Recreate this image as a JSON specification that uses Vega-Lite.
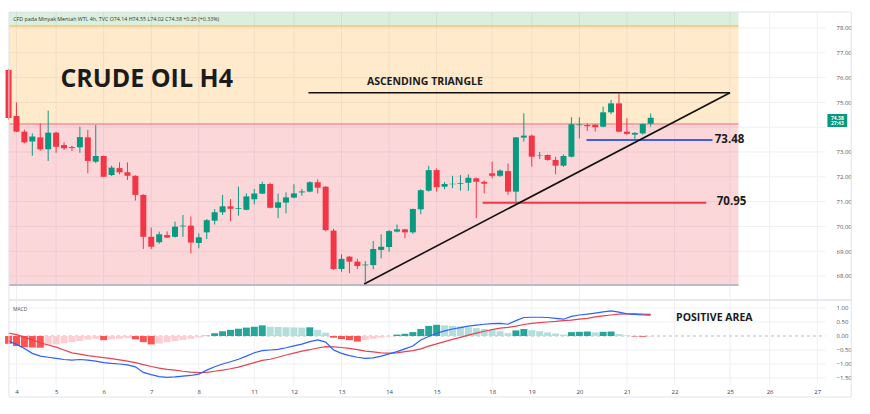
{
  "$schema": "https://vega.github.io/schema/vega-lite/v6.json",
  "width": 870,
  "height": 414,
  "autosize": {"type": "fit", "contains": "padding"},
  "padding": 0,
  "background": "white",
  "config": {
    "font": "Open Sans",
    "view": {"stroke": null},
    "axis": {"labelFont": "Open Sans", "labelColor": "#555555", "labelFontSize": 6, "grid": false, "ticks": false, "domain": false, "title": null, "minExtent": 0, "maxExtent": 0}
  },
  "datasets": {
    "candles": [
      {"i": -1, "o": 76.31, "h": 76.35, "l": 74.3, "c": 74.37, "m": -0.18, "s": 0.1, "hist": -0.28},
      {"i": 0, "o": 74.45, "h": 75.0, "l": 73.8, "c": 73.82, "m": -0.3, "s": 0.05, "hist": -0.36},
      {"i": 1, "o": 73.82, "h": 73.9, "l": 73.35, "c": 73.39, "m": -0.45, "s": -0.04, "hist": -0.4},
      {"i": 2, "o": 73.42, "h": 73.75, "l": 72.85, "c": 73.62, "m": -0.62, "s": -0.14, "hist": -0.41},
      {"i": 3, "o": 73.59, "h": 74.16, "l": 73.05, "c": 73.11, "m": -0.72, "s": -0.24, "hist": -0.42},
      {"i": 4, "o": 73.11, "h": 74.67, "l": 72.64, "c": 73.78, "m": -0.76, "s": -0.32, "hist": -0.33},
      {"i": 5, "o": 73.78, "h": 73.82, "l": 72.97, "c": 73.21, "m": -0.8, "s": -0.4, "hist": -0.3},
      {"i": 6, "o": 73.28, "h": 73.39, "l": 73.08, "c": 73.15, "m": -0.84, "s": -0.5, "hist": -0.26},
      {"i": 7, "o": 73.2, "h": 73.25, "l": 73.04, "c": 73.16, "m": -0.86, "s": -0.6, "hist": -0.22},
      {"i": 8, "o": 73.19, "h": 74.02, "l": 72.97, "c": 73.6, "m": -0.84, "s": -0.65, "hist": -0.18},
      {"i": 9, "o": 73.59, "h": 73.89, "l": 72.14, "c": 72.64, "m": -0.86, "s": -0.7, "hist": -0.13},
      {"i": 10, "o": 72.61, "h": 74.09, "l": 72.55, "c": 72.84, "m": -0.9, "s": -0.74, "hist": -0.1},
      {"i": 11, "o": 72.84, "h": 72.86, "l": 71.98, "c": 72.0, "m": -0.95, "s": -0.77, "hist": -0.15},
      {"i": 12, "o": 72.07, "h": 72.45, "l": 72.03, "c": 72.37, "m": -0.98, "s": -0.81, "hist": -0.12},
      {"i": 13, "o": 72.35, "h": 72.58, "l": 72.1, "c": 72.18, "m": -1.0, "s": -0.85, "hist": -0.1},
      {"i": 14, "o": 72.18, "h": 72.58, "l": 71.87, "c": 72.04, "m": -1.03, "s": -0.9, "hist": -0.08},
      {"i": 15, "o": 72.04, "h": 72.06, "l": 71.04, "c": 71.27, "m": -1.1, "s": -0.95, "hist": -0.12},
      {"i": 16, "o": 71.27, "h": 71.3, "l": 69.09, "c": 69.58, "m": -1.3, "s": -1.02, "hist": -0.22},
      {"i": 17, "o": 69.58, "h": 69.95, "l": 69.09, "c": 69.18, "m": -1.38, "s": -1.09, "hist": -0.3},
      {"i": 18, "o": 69.36, "h": 69.79, "l": 69.3, "c": 69.68, "m": -1.45, "s": -1.15, "hist": -0.27},
      {"i": 19, "o": 69.65, "h": 69.8, "l": 69.53, "c": 69.55, "m": -1.48, "s": -1.19, "hist": -0.22},
      {"i": 20, "o": 69.58, "h": 70.19, "l": 69.55, "c": 69.99, "m": -1.46, "s": -1.22, "hist": -0.18},
      {"i": 21, "o": 70.0, "h": 70.46, "l": 69.58, "c": 70.03, "m": -1.43, "s": -1.26, "hist": -0.14},
      {"i": 22, "o": 70.03, "h": 70.4, "l": 68.91, "c": 69.35, "m": -1.41, "s": -1.29, "hist": -0.1},
      {"i": 23, "o": 69.33, "h": 69.72, "l": 69.12, "c": 69.56, "m": -1.36, "s": -1.31, "hist": -0.05},
      {"i": 24, "o": 69.76, "h": 70.3, "l": 69.49, "c": 70.25, "m": -1.22, "s": -1.3, "hist": 0.01},
      {"i": 25, "o": 70.23, "h": 70.7, "l": 70.08, "c": 70.57, "m": -1.1, "s": -1.26, "hist": 0.1},
      {"i": 26, "o": 70.57, "h": 71.27, "l": 70.46, "c": 70.81, "m": -1.0, "s": -1.22, "hist": 0.17},
      {"i": 27, "o": 70.81, "h": 71.1, "l": 70.22, "c": 70.71, "m": -0.92, "s": -1.17, "hist": 0.22},
      {"i": 28, "o": 70.71, "h": 71.6, "l": 70.43, "c": 70.74, "m": -0.83, "s": -1.11, "hist": 0.26},
      {"i": 29, "o": 70.67, "h": 71.33, "l": 70.65, "c": 71.21, "m": -0.72, "s": -1.03, "hist": 0.3},
      {"i": 30, "o": 71.09, "h": 71.51, "l": 70.89, "c": 71.33, "m": -0.6, "s": -0.95, "hist": 0.33},
      {"i": 31, "o": 71.32, "h": 71.8, "l": 71.3, "c": 71.71, "m": -0.52, "s": -0.87, "hist": 0.38},
      {"i": 32, "o": 71.71, "h": 71.76, "l": 70.73, "c": 70.75, "m": -0.5, "s": -0.83, "hist": 0.33},
      {"i": 33, "o": 70.75, "h": 71.33, "l": 70.33, "c": 70.97, "m": -0.48, "s": -0.76, "hist": 0.32},
      {"i": 34, "o": 70.96, "h": 71.37, "l": 70.53, "c": 71.17, "m": -0.42, "s": -0.68, "hist": 0.31},
      {"i": 35, "o": 71.16, "h": 71.7, "l": 71.13, "c": 71.33, "m": -0.35, "s": -0.61, "hist": 0.305},
      {"i": 36, "o": 71.37, "h": 71.51, "l": 71.24, "c": 71.41, "m": -0.29, "s": -0.54, "hist": 0.3},
      {"i": 37, "o": 71.4, "h": 71.82, "l": 71.38, "c": 71.78, "m": -0.2, "s": -0.49, "hist": 0.31},
      {"i": 38, "o": 71.78, "h": 71.9, "l": 71.33, "c": 71.56, "m": -0.14, "s": -0.43, "hist": 0.22},
      {"i": 39, "o": 71.6, "h": 71.62, "l": 69.8, "c": 69.85, "m": -0.22, "s": -0.38, "hist": 0.12},
      {"i": 40, "o": 69.83, "h": 69.9, "l": 68.25, "c": 68.28, "m": -0.5, "s": -0.39, "hist": -0.06},
      {"i": 41, "o": 68.28, "h": 68.87, "l": 68.17, "c": 68.69, "m": -0.62, "s": -0.41, "hist": -0.11},
      {"i": 42, "o": 68.78, "h": 68.8, "l": 68.11, "c": 68.58, "m": -0.7, "s": -0.44, "hist": -0.15},
      {"i": 43, "o": 68.58, "h": 68.69, "l": 68.28, "c": 68.4, "m": -0.76, "s": -0.49, "hist": -0.2},
      {"i": 44, "o": 68.43, "h": 68.6, "l": 67.72, "c": 68.46, "m": -0.8, "s": -0.54, "hist": -0.14},
      {"i": 45, "o": 68.44, "h": 69.41, "l": 68.27, "c": 69.09, "m": -0.78, "s": -0.57, "hist": -0.1},
      {"i": 46, "o": 69.05, "h": 69.68, "l": 68.71, "c": 69.18, "m": -0.72, "s": -0.6, "hist": -0.06},
      {"i": 47, "o": 69.17, "h": 69.85, "l": 68.98, "c": 69.81, "m": -0.64, "s": -0.61, "hist": -0.02},
      {"i": 48, "o": 69.79, "h": 70.08, "l": 69.76, "c": 69.88, "m": -0.56, "s": -0.6, "hist": 0.05},
      {"i": 49, "o": 69.88, "h": 69.9, "l": 69.52, "c": 69.76, "m": -0.46, "s": -0.56, "hist": 0.08},
      {"i": 50, "o": 69.76, "h": 70.72, "l": 69.7, "c": 70.7, "m": -0.36, "s": -0.52, "hist": 0.14},
      {"i": 51, "o": 70.69, "h": 71.5, "l": 70.49, "c": 71.46, "m": -0.14, "s": -0.46, "hist": 0.25},
      {"i": 52, "o": 71.44, "h": 72.44, "l": 71.4, "c": 72.27, "m": -0.02, "s": -0.36, "hist": 0.36},
      {"i": 53, "o": 72.27, "h": 72.34, "l": 71.4, "c": 71.58, "m": 0.1, "s": -0.28, "hist": 0.4},
      {"i": 54, "o": 71.6, "h": 71.79, "l": 71.5, "c": 71.71, "m": 0.18, "s": -0.2, "hist": 0.38},
      {"i": 55, "o": 71.7, "h": 72.04, "l": 71.54, "c": 71.72, "m": 0.25, "s": -0.12, "hist": 0.36},
      {"i": 56, "o": 71.72, "h": 72.07, "l": 71.44, "c": 71.75, "m": 0.3, "s": -0.05, "hist": 0.34},
      {"i": 57, "o": 71.76, "h": 72.1, "l": 71.43, "c": 71.96, "m": 0.35, "s": 0.03, "hist": 0.31},
      {"i": 58, "o": 71.94, "h": 71.97, "l": 70.33, "c": 71.8, "m": 0.39, "s": 0.1, "hist": 0.28},
      {"i": 59, "o": 71.8, "h": 71.85, "l": 71.33, "c": 71.72, "m": 0.42, "s": 0.17, "hist": 0.25},
      {"i": 60, "o": 72.14, "h": 72.61, "l": 71.94, "c": 72.04, "m": 0.44, "s": 0.23, "hist": 0.21},
      {"i": 61, "o": 72.04, "h": 72.3, "l": 72.0, "c": 72.25, "m": 0.45, "s": 0.28, "hist": 0.17},
      {"i": 62, "o": 72.23, "h": 72.54, "l": 71.27, "c": 71.4, "m": 0.42, "s": 0.31, "hist": 0.1},
      {"i": 63, "o": 71.4, "h": 73.6, "l": 70.93, "c": 73.59, "m": 0.55, "s": 0.35, "hist": 0.2},
      {"i": 64, "o": 73.58, "h": 74.56, "l": 73.42, "c": 73.66, "m": 0.66, "s": 0.41, "hist": 0.25},
      {"i": 65, "o": 73.66, "h": 73.7, "l": 72.41, "c": 72.81, "m": 0.67, "s": 0.45, "hist": 0.21},
      {"i": 66, "o": 72.86, "h": 73.0, "l": 72.72, "c": 72.88, "m": 0.67, "s": 0.48, "hist": 0.17},
      {"i": 67, "o": 72.88, "h": 72.9, "l": 72.65, "c": 72.68, "m": 0.66, "s": 0.5, "hist": 0.13},
      {"i": 68, "o": 72.68, "h": 72.81, "l": 72.1, "c": 72.45, "m": 0.63, "s": 0.52, "hist": 0.09},
      {"i": 69, "o": 72.45, "h": 72.9, "l": 72.4, "c": 72.84, "m": 0.6, "s": 0.55, "hist": 0.05},
      {"i": 70, "o": 72.81, "h": 74.4, "l": 72.78, "c": 74.12, "m": 0.7, "s": 0.57, "hist": 0.14},
      {"i": 71, "o": 74.08, "h": 74.4, "l": 73.55, "c": 74.11, "m": 0.75, "s": 0.6, "hist": 0.15},
      {"i": 72, "o": 74.09, "h": 74.15, "l": 73.85, "c": 74.04, "m": 0.78, "s": 0.63, "hist": 0.16},
      {"i": 73, "o": 74.1, "h": 74.12, "l": 73.82, "c": 74.0, "m": 0.82, "s": 0.68, "hist": 0.13},
      {"i": 74, "o": 74.02, "h": 74.83, "l": 74.0, "c": 74.6, "m": 0.86, "s": 0.72, "hist": 0.15},
      {"i": 75, "o": 74.6, "h": 75.1, "l": 74.52, "c": 74.96, "m": 0.9, "s": 0.75, "hist": 0.16},
      {"i": 76, "o": 74.96, "h": 75.37, "l": 73.8, "c": 73.82, "m": 0.85, "s": 0.78, "hist": 0.07},
      {"i": 77, "o": 73.82, "h": 74.36, "l": 73.69, "c": 73.73, "m": 0.79, "s": 0.79, "hist": 0.02},
      {"i": 78, "o": 73.7, "h": 73.8, "l": 73.5, "c": 73.77, "m": 0.77, "s": 0.79, "hist": -0.02},
      {"i": 79, "o": 73.75, "h": 74.15, "l": 73.7, "c": 74.13, "m": 0.75, "s": 0.78, "hist": -0.03},
      {"i": 80, "o": 74.14, "h": 74.55, "l": 74.02, "c": 74.38, "m": 0.74, "s": 0.77, "hist": -0.02}
    ],
    "bands": [
      {"x1": -0.948, "x2": 91.07, "y1": 78.645, "y2": 78.08, "b": "header"},
      {"x1": -0.948, "x2": 91.07, "y1": 78.08, "y2": 74.13, "b": "upper"},
      {"x1": -0.948, "x2": 91.07, "y1": 74.13, "y2": 67.637, "b": "lower"}
    ],
    "hlines": [
      {"x1": -0.948, "x2": 91.07, "y": 78.08, "k": "upper edge"},
      {"x1": -0.948, "x2": 91.07, "y": 74.13, "k": "mid edge"},
      {"x1": -0.948, "x2": 91.07, "y": 67.637, "k": "lower edge"},
      {"x1": 36.83, "x2": 90.0, "y": 75.39, "k": "resistance"},
      {"x1": 71.9, "x2": 87.8, "y": 73.48, "k": "support 1"},
      {"x1": 58.8, "x2": 87.0, "y": 70.95, "k": "support 2"}
    ],
    "trend": [
      {"x1": 43.86, "y1": 67.68, "x2": 90.0, "y2": 75.39}
    ],
    "days": [
      {"i": 0}, {"i": 5}, {"i": 11}, {"i": 17}, {"i": 23}, {"i": 30}, {"i": 35}, {"i": 41}, {"i": 47},
      {"i": 53}, {"i": 60}, {"i": 65}, {"i": 71}, {"i": 77}, {"i": 83}, {"i": 90}, {"i": 95}, {"i": 101}
    ],
    "priceGrid": [
      {"p": 68}, {"p": 69}, {"p": 70}, {"p": 71}, {"p": 72}, {"p": 73}, {"p": 74}, {"p": 75}, {"p": 76}, {"p": 77}, {"p": 78}
    ],
    "macdGrid": [
      {"v": -1.5}, {"v": -1}, {"v": -0.5}, {"v": 0.5}, {"v": 1}
    ]
  },
  "encoding": {
    "x": {"type": "quantitative", "scale": {"domain": [-1.446, 107.03], "nice": false, "zero": false},
      "axis": {"orient": "bottom", "labelPadding": -26, "values": [0, 5, 11, 17, 23, 30, 35, 41, 47, 53, 60, 65, 71, 77, 83, 90, 95, 101],
        "labelExpr": "['4','5','6','7','8','11','12','13','14','15','18','19','20','21','22','25','26','27'][indexof([0,5,11,17,23,30,35,41,47,53,60,65,71,77,83,90,95,101], datum.value)]",
        "labelFontSize": 6, "labelColor": "#444444"}}
  },
  "resolve": {"scale": {"y": "independent", "color": "independent"}, "axis": {"y": "independent"}},
  "layer": [
    {
      "encoding": {
        "y": {"type": "quantitative", "scale": {"domain": [62.435, 79.129], "nice": false, "zero": false},
          "axis": {"orient": "right", "labelPadding": -34, "values": [68, 69, 70, 71, 72, 73, 75, 76, 77, 78], "format": ".2f"}}
      },
      "resolve": {"scale": {"color": "independent"}},
      "layer": [
        {
          "data": {"name": "priceGrid"},
          "mark": {"type": "rule", "color": "#eef0f5", "strokeWidth": 1},
          "encoding": {"x": {"datum": -0.948}, "x2": {"datum": 102.04}, "y": {"field": "p"}}
        },
        {
          "data": {"name": "days"},
          "mark": {"type": "rule", "color": "#eef0f5", "strokeWidth": 1},
          "encoding": {"x": {"field": "i"}, "y": {"datum": 78.645}, "y2": {"datum": 67.032}}
        },
        {
          "data": {"name": "bands"},
          "mark": {"type": "rect", "opacity": 0.2},
          "encoding": {
            "x": {"field": "x1"}, "x2": {"field": "x2"},
            "y": {"field": "y1"}, "y2": {"field": "y2"},
            "color": {"field": "b", "type": "nominal", "legend": null,
              "scale": {"domain": ["header", "upper", "lower"], "range": ["#4caf50", "#ff9800", "#f23645"]}}
          }
        },
        {
          "data": {"name": "hlines"},
          "transform": [{"filter": "datum.k == 'upper edge' || datum.k == 'mid edge'"}],
          "mark": {"type": "rule", "strokeWidth": 1},
          "encoding": {
            "x": {"field": "x1"}, "x2": {"field": "x2"},
            "y": {"field": "y"},
            "color": {"field": "k", "type": "nominal", "legend": null,
              "scale": {"domain": ["upper edge", "mid edge"], "range": ["#f0b552", "#f06b74"]}}
          }
        },
        {
          "data": {"name": "hlines"},
          "transform": [{"filter": "datum.k == 'lower edge'"}],
          "mark": {"type": "rule", "strokeWidth": 2.2, "color": "#b8bbc2"},
          "encoding": {"x": {"field": "x1"}, "x2": {"field": "x2"}, "y": {"field": "y"}}
        },
        {
          "data": {"name": "hlines"},
          "transform": [{"filter": "datum.k == 'resistance'"}],
          "mark": {"type": "rule", "strokeWidth": 1.6, "color": "#111111"},
          "encoding": {"x": {"field": "x1"}, "x2": {"field": "x2"}, "y": {"field": "y"}}
        },
        {
          "data": {"name": "hlines"},
          "transform": [{"filter": "datum.k == 'support 1'"}],
          "mark": {"type": "rule", "strokeWidth": 2, "color": "#3f5fe0"},
          "encoding": {"x": {"field": "x1"}, "x2": {"field": "x2"}, "y": {"field": "y"}}
        },
        {
          "data": {"name": "hlines"},
          "transform": [{"filter": "datum.k == 'support 2'"}],
          "mark": {"type": "rule", "strokeWidth": 2, "color": "#ee3a48"},
          "encoding": {"x": {"field": "x1"}, "x2": {"field": "x2"}, "y": {"field": "y"}}
        },
        {
          "data": {"name": "trend"},
          "mark": {"type": "rule", "color": "#111111", "strokeWidth": 1.6},
          "encoding": {
            "x": {"field": "x1"}, "x2": {"field": "x2"},
            "y": {"field": "y1"}, "y2": {"field": "y2"}
          }
        },
        {
          "data": {"name": "candles"},
          "mark": {"type": "rule", "strokeWidth": 1},
          "encoding": {
            "x": {"field": "i"},
            "y": {"field": "l"}, "y2": {"field": "h"},
            "color": {"condition": {"test": "datum.c >= datum.o", "value": "#089981"}, "value": "#f23645"}
          }
        },
        {
          "data": {"name": "candles"},
          "mark": {"type": "bar", "size": 6},
          "encoding": {
            "x": {"field": "i"},
            "y": {"field": "o"}, "y2": {"field": "c"},
            "color": {"condition": {"test": "datum.c >= datum.o", "value": "#089981"}, "value": "#f23645"}
          }
        },
        {
          "data": {"values": [{"t": "CRUDE OIL H4", "x": 5.54, "y": 75.96}]},
          "mark": {"type": "text", "align": "left", "baseline": "middle", "font": "Open Sans", "fontWeight": "bold", "fontSize": 25, "color": "#1b1b1b"},
          "encoding": {"x": {"field": "x"}, "y": {"field": "y"}, "text": {"field": "t"}}
        },
        {
          "data": {"values": [{"t": "ASCENDING TRIANGLE", "x": 44.2, "y": 75.82}]},
          "mark": {"type": "text", "align": "left", "baseline": "middle", "font": "Open Sans", "fontWeight": "bold", "fontSize": 10.5, "color": "#1b1b1b"},
          "encoding": {"x": {"field": "x"}, "y": {"field": "y"}, "text": {"field": "t"}}
        },
        {
          "data": {"values": [{"t": "73.48", "x": 88.08, "y": 73.48}, {"t": "70.95", "x": 88.33, "y": 70.97}]},
          "mark": {"type": "text", "align": "left", "baseline": "middle", "font": "Open Sans", "fontWeight": "bold", "fontSize": 11.5, "color": "#1b1b1b"},
          "encoding": {"x": {"field": "x"}, "y": {"field": "y"}, "text": {"field": "t"}}
        },
        {
          "data": {"values": [{"t": "CFD pada Minyak Mentah WTI, 4h, TVC  O74.14  H74.55  L74.02  C74.38  +0.25 (+0.33%)", "x": -0.41, "y": 78.343}]},
          "mark": {"type": "text", "align": "left", "baseline": "middle", "font": "Open Sans", "fontSize": 5.3, "color": "#333333"},
          "encoding": {"x": {"field": "x"}, "y": {"field": "y"}, "text": {"field": "t"}}
        },
        {
          "data": {"values": [{"x1": 102.29, "x2": 104.79, "y1": 74.532, "y2": 74.008}]},
          "mark": {"type": "rect", "color": "#089981"},
          "encoding": {"x": {"field": "x1"}, "x2": {"field": "x2"}, "y": {"field": "y1"}, "y2": {"field": "y2"}}
        },
        {
          "data": {"values": [{"t": "74.38", "x": 103.54, "y": 74.39}, {"t": "27:43", "x": 103.54, "y": 74.15}]},
          "mark": {"type": "text", "align": "center", "baseline": "middle", "font": "Open Sans", "fontSize": 5, "fontWeight": "bold", "color": "#ffffff"},
          "encoding": {"x": {"field": "x"}, "y": {"field": "y"}, "text": {"field": "t"}}
        },
        {
          "data": {"values": [{"x1": -0.948, "x2": 105.29, "y1": 78.645, "y2": 67.032}]},
          "mark": {"type": "rect", "fill": "transparent", "stroke": "#e0e3eb", "strokeWidth": 1},
          "encoding": {"x": {"field": "x1"}, "x2": {"field": "x2"}, "y": {"field": "y1"}, "y2": {"field": "y2"}}
        }
      ]
    },
    {
      "encoding": {
        "y": {"type": "quantitative", "scale": {"domain": [-2.786, 12.0], "nice": false, "zero": false},
          "axis": {"orient": "right", "labelPadding": -34, "values": [-1.5, -1, -0.5, 0, 0.5, 1], "format": ".2f"}}
      },
      "layer": [
        {
          "data": {"name": "macdGrid"},
          "mark": {"type": "rule", "color": "#eef0f5", "strokeWidth": 1},
          "encoding": {"x": {"datum": -0.948}, "x2": {"datum": 102.04}, "y": {"field": "v"}}
        },
        {
          "data": {"name": "days"},
          "mark": {"type": "rule", "color": "#eef0f5", "strokeWidth": 1},
          "encoding": {"x": {"field": "i"}, "y": {"datum": 1.286}, "y2": {"datum": -1.75}}
        },
        {
          "data": {"values": [{"x1": -0.948, "x2": 102.04, "y": 0}]},
          "mark": {"type": "rule", "color": "#b8bbc2", "strokeDash": [3, 3], "strokeWidth": 1},
          "encoding": {"x": {"field": "x1"}, "x2": {"field": "x2"}, "y": {"field": "y"}}
        },
        {
          "data": {"name": "candles"},
          "transform": [{"window": [{"op": "lag", "field": "hist", "as": "hp"}], "sort": [{"field": "i", "order": "ascending"}]}],
          "mark": {"type": "bar", "size": 7},
          "encoding": {
            "x": {"field": "i"},
            "y": {"field": "hist"}, "y2": {"datum": 0},
            "color": {
              "condition": [
                {"test": "datum.hist >= 0 && (datum.hp == null || datum.hist >= datum.hp)", "value": "#26a69a"},
                {"test": "datum.hist >= 0", "value": "#b2dfdb"},
                {"test": "datum.hp == null || datum.hist <= datum.hp", "value": "#ff5252"}
              ],
              "value": "#ffcdd2"
            }
          }
        },
        {
          "data": {"name": "candles"},
          "mark": {"type": "line", "color": "#e8424f", "strokeWidth": 1.2},
          "encoding": {"x": {"field": "i"}, "y": {"field": "s"}}
        },
        {
          "data": {"name": "candles"},
          "mark": {"type": "line", "color": "#2962ff", "strokeWidth": 1.2},
          "encoding": {"x": {"field": "i"}, "y": {"field": "m"}}
        },
        {
          "data": {"values": [{"t": "POSITIVE AREA", "x": 83.2, "y": 0.65}]},
          "mark": {"type": "text", "align": "left", "baseline": "middle", "font": "Open Sans", "fontWeight": "bold", "fontSize": 10.5, "color": "#1b1b1b"},
          "encoding": {"x": {"field": "x"}, "y": {"field": "y"}, "text": {"field": "t"}}
        },
        {
          "data": {"values": [{"t": "MACD", "x": -0.45, "y": 0.96}]},
          "mark": {"type": "text", "align": "left", "baseline": "middle", "font": "Open Sans", "fontSize": 5, "color": "#555555"},
          "encoding": {"x": {"field": "x"}, "y": {"field": "y"}, "text": {"field": "t"}}
        },
        {
          "data": {"values": [{"x1": -0.948, "x2": 105.29, "y1": 1.286, "y2": -2.179}]},
          "mark": {"type": "rect", "fill": "transparent", "stroke": "#e0e3eb", "strokeWidth": 1},
          "encoding": {"x": {"field": "x1"}, "x2": {"field": "x2"}, "y": {"field": "y1"}, "y2": {"field": "y2"}}
        }
      ]
    }
  ]
}
